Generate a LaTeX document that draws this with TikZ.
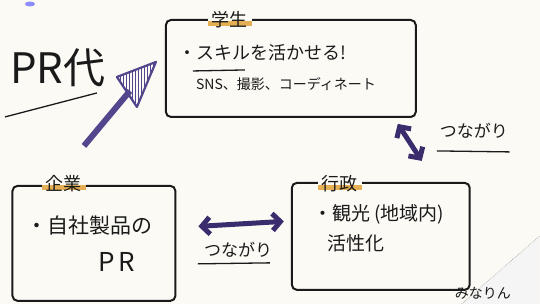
\documentclass[tikz,border=0pt]{standalone}
\usepackage{fontspec}
\setmainfont{Noto Sans CJK JP}
\usetikzlibrary{arrows.meta,patterns,calc}
\definecolor{bg}{HTML}{FBFAF5}
\definecolor{ink}{HTML}{1A1A1A}
\definecolor{arr}{HTML}{3B2C6E}
\definecolor{arrl}{HTML}{54468C}
\definecolor{hl}{HTML}{E0A33A}
\tikzset{
  box/.style={draw=ink, line width=2pt, rounded corners=5pt, inner sep=0pt},
  lbl/.style={fill=bg, font=\fontsize{18}{18}\selectfont, text=ink, inner xsep=4pt, inner ysep=1pt,
    path picture={\fill[hl, opacity=0.85] ([yshift=3pt]path picture bounding box.south west) rectangle ([yshift=8pt]path picture bounding box.south east);}},
  txt/.style={font=\fontsize{18}{18}\selectfont, text=ink, anchor=west, inner sep=0pt},
  small/.style={font=\fontsize{14}{14}\selectfont, text=ink, anchor=west, inner sep=0pt},
  uline/.style={draw=ink, line width=1.3pt},
  dbl/.style={arr, line width=5pt, {Straight Barb[length=8pt,width=17pt]}-{Straight Barb[length=8pt,width=17pt]}},
}
\begin{document}
\begin{tikzpicture}[x=1pt,y=-1pt]
\fill[bg] (0,0) rectangle (540,304);
% paper fold
\fill[black!4] (462,304) -- (540,236) -- (540,304) -- cycle;
\draw[black!35, densely dotted, line width=0.6pt] (462,304) -- (540,236);
% tiny blue mark
\fill[blue!45] (30,4) ellipse (5pt and 2.5pt);
% boxes
\node[box, minimum width=250pt, minimum height=97pt] (sbox) at (291,68.5) {};
\node[box, minimum width=163pt, minimum height=115pt] (cbox) at (94,243.5) {};
\node[box, minimum width=178pt, minimum height=107pt] (gbox) at (381,236.5) {};
% labels
\node[lbl] (slbl) at (230,20) {学生};
\node[lbl] (clbl) at (64,184) {企業};
\node[lbl] (glbl) at (340,184) {行政};
% student contents
\node[txt] (s1) at (178,53) {・スキルを活かせる!};
\draw[uline] (193,71) -- (245,70);
\node[small] (s2) at (196,84) {SNS、撮影、コーディネート};
% company contents
\node[txt, font=\fontsize{21}{21}\selectfont] (c1) at (26,226) {・自社製品の};
\node[txt, font=\fontsize{26}{26}\selectfont] (c2) at (98,262) {P\,R};
% gov contents
\node[txt, font=\fontsize{19}{19}\selectfont] (g1) at (313,215) {・観光 (地域内)};
\node[txt, font=\fontsize{19}{19}\selectfont] (g2) at (327,243) {活性化};
% PR dai
\node[txt, font=\fontsize{42}{42}\selectfont] (pr) at (10,68) {PR代};
\coordinate (u1) at (5,117);
\coordinate (u2) at (97,93);
\draw[uline] (u1) -- (u2);
% big arrow
\coordinate (pa) at (84,146);
\coordinate (pb) at (130,91);
\draw[arrl, line width=6pt] (pa) -- (pb);
\draw[arrl, line width=2.2pt, pattern=vertical lines, pattern color=arrl, line join=round]
  (117,77) -- (156,62) -- (137,107) -- cycle;
% double arrows
\draw[dbl] ($(cbox.east)+(22,-17)$) coordinate (h1) -- ($(gbox.west)+(-7,-15)$) coordinate (h2);
\node[txt, font=\fontsize{17}{17}\selectfont] (t1) at (204,250) {つながり};
\draw[uline] (198,264) -- (270,263);
\draw[dbl] ($(sbox.south east)+(-19,6)$) coordinate (d1) -- ($(gbox.north east)+(-49,-21)$) coordinate (d2);
\node[txt, font=\fontsize{17}{17}\selectfont] (t2) at (440,131) {つながり};
\draw[uline] (437,151) -- (510,152);
% signature
\node[small] (sig) at (455,293) {みなりん};
\end{tikzpicture}
\end{document}
